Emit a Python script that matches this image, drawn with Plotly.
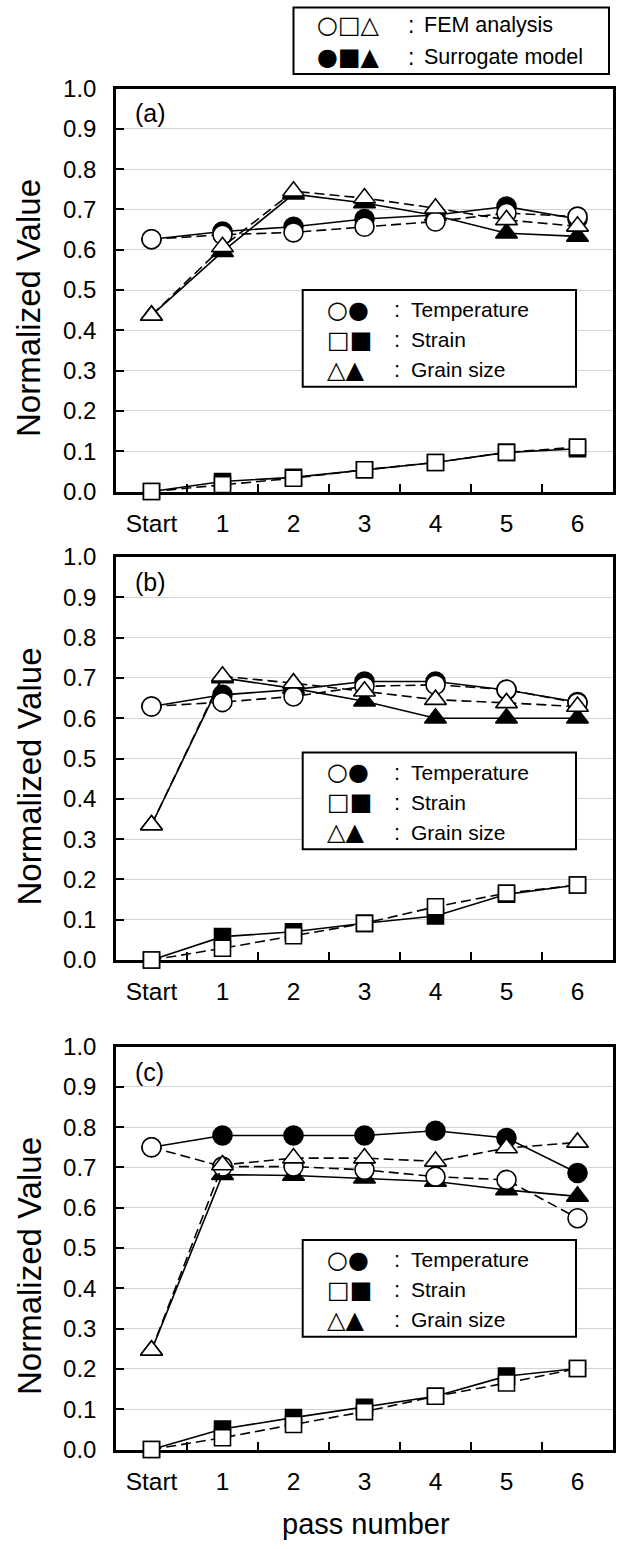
import plotly.graph_objects as go

# ---------------- data ----------------
categories = ["Start", "1", "2", "3", "4", "5", "6"]

a_temp_fem = [0.626, 0.637, 0.643, 0.657, 0.670, 0.691, 0.682]
a_temp_sur = [0.626, 0.645, 0.657, 0.676, 0.686, 0.707, 0.676]
a_strain_fem = [0.000, 0.017, 0.033, 0.054, 0.072, 0.097, 0.110]
a_strain_sur = [0.000, 0.025, 0.035, 0.054, 0.072, 0.097, 0.106]
a_grain_fem = [0.437, 0.607, 0.745, 0.728, 0.703, 0.674, 0.658]
a_grain_sur = [0.437, 0.595, 0.738, 0.716, 0.685, 0.641, 0.633]

b_temp_fem = [0.629, 0.640, 0.654, 0.679, 0.683, 0.671, 0.638]
b_temp_sur = [0.629, 0.658, 0.671, 0.691, 0.691, 0.670, 0.640]
b_strain_fem = [0.000, 0.029, 0.060, 0.091, 0.132, 0.166, 0.186]
b_strain_sur = [0.000, 0.058, 0.070, 0.091, 0.109, 0.163, 0.186]
b_grain_fem = [0.335, 0.704, 0.687, 0.667, 0.646, 0.638, 0.629]
b_grain_sur = [0.335, 0.700, 0.674, 0.642, 0.600, 0.600, 0.600]

c_temp_fem = [0.750, 0.702, 0.702, 0.694, 0.677, 0.669, 0.574]
c_temp_sur = [0.750, 0.779, 0.779, 0.779, 0.791, 0.773, 0.686]
c_strain_fem = [0.000, 0.029, 0.062, 0.094, 0.132, 0.165, 0.201]
c_strain_sur = [0.000, 0.051, 0.079, 0.105, 0.132, 0.182, 0.201]
c_grain_fem = [0.246, 0.706, 0.723, 0.723, 0.715, 0.748, 0.762]
c_grain_sur = [0.246, 0.682, 0.680, 0.673, 0.665, 0.644, 0.628]

panel_labels = ["(a)", "(b)", "(c)"]
y_ticks = [0.0, 0.1, 0.2, 0.3, 0.4, 0.5, 0.6, 0.7, 0.8, 0.9, 1.0]
legend_rows = ["Temperature", "Strain", "Grain size"]
legend_syms = ["○●", "□■", "△▲"]
method_rows = ["FEM analysis", "Surrogate model"]
method_syms = ["○□△", "●■▲"]

panels = [
    dict(temp_fem=a_temp_fem, temp_sur=a_temp_sur, strain_fem=a_strain_fem,
         strain_sur=a_strain_sur, grain_fem=a_grain_fem, grain_sur=a_grain_sur),
    dict(temp_fem=b_temp_fem, temp_sur=b_temp_sur, strain_fem=b_strain_fem,
         strain_sur=b_strain_sur, grain_fem=b_grain_fem, grain_sur=b_grain_sur),
    dict(temp_fem=c_temp_fem, temp_sur=c_temp_sur, strain_fem=c_strain_fem,
         strain_sur=c_strain_sur, grain_fem=c_grain_fem, grain_sur=c_grain_sur),
]

# ---------------- layout geometry (pixels) ----------------
W, H = 617, 1549
X_LEFT, X_RIGHT = 116, 613
TOPS = [88.5, 557.0, 1046.5]
BOTS = [491.5, 960.0, 1449.5]
LEG_TOPS = [290.0, 752.6, 1240.0]

FONT = "Liberation Sans, Arial"
SYM = "DejaVu Sans"


def fx(px):
    return px / W


def fy(py):
    return 1 - py / H


xs = list(range(len(categories)))

fig = go.Figure()

marker_size = {"circle": 19, "square": 16, "triangle-up": 19}

for i, p in enumerate(panels):
    ax = "" if i == 0 else str(i + 1)
    xref, yref = "x" + ax, "y" + ax
    series = [
        ("grain_sur", "triangle-up", True),
        ("temp_sur", "circle", True),
        ("strain_sur", "square", True),
        ("strain_fem", "square", False),
        ("temp_fem", "circle", False),
        ("grain_fem", "triangle-up", False),
    ]
    for key, sym, filled in series:
        fig.add_trace(go.Scatter(
            x=xs, y=p[key], xaxis=xref, yaxis=yref,
            mode="lines+markers",
            line=dict(color="black", width=1.6,
                      dash="solid" if filled else "10px,5px"),
            marker=dict(symbol=sym, size=marker_size[sym],
                        color="black" if filled else "white",
                        line=dict(color="black", width=1.6)),
            cliponaxis=False, showlegend=False, hoverinfo="skip",
        ))

    dom_y = [fy(BOTS[i]), fy(TOPS[i])]
    fig.layout["xaxis" + ax] = dict(
        domain=[fx(X_LEFT), fx(X_RIGHT)], anchor=yref,
        range=[-0.5, 6.5], tickmode="array", tickvals=xs, ticktext=categories,
        ticks="", showgrid=False, zeroline=False,
        showline=True, mirror=True, linecolor="black", linewidth=2.5,
        layer="below traces",
        tickfont=dict(family=FONT, size=24.5, color="black"),
        ticklabelstandoff=8,
        minor=dict(tickmode="array", tickvals=[0.5, 1.5, 2.5, 3.5, 4.5, 5.5],
                   ticks="inside", ticklen=8, tickwidth=2, tickcolor="black",
                   showgrid=False),
        automargin=False, fixedrange=True,
    )
    fig.layout["yaxis" + ax] = dict(
        domain=dom_y, anchor=xref, range=[0, 1.0],
        tickmode="array", tickvals=y_ticks,
        ticktext=[f"{v:.1f}" for v in y_ticks],
        ticks="inside", ticklen=8, tickwidth=2, tickcolor="black",
        showgrid=True, gridcolor="#d4d4d4", gridwidth=1,
        zeroline=False, showline=True, mirror=True, linecolor="black",
        linewidth=2.5, layer="below traces",
        tickfont=dict(family=FONT, size=24, color="black"),
        ticklabelstandoff=12,
        automargin=False, fixedrange=True,
    )

annotations = []
shapes = []


def text_ann(text, x, y, size, family=FONT, xanchor="left"):
    return dict(text=text, x=fx(x), y=fy(y), xref="paper", yref="paper",
                xanchor=xanchor, yanchor="middle", showarrow=False,
                font=dict(family=family, size=size, color="black"))


for i in range(3):
    top, bot = TOPS[i], BOTS[i]
    annotations.append(text_ann(panel_labels[i], 133, top + 25, 25))
    # y-axis title
    annotations.append(dict(text="Normalized Value", x=fx(29),
                            y=fy((top + bot) / 2 + 18),
                            xref="paper", yref="paper", xanchor="center",
                            yanchor="middle", textangle=-90, showarrow=False,
                            font=dict(family=FONT, size=33, color="black")))
    # inner legend box
    btop = LEG_TOPS[i]
    bbot = btop + 96.7
    shapes.append(dict(type="rect", xref="paper", yref="paper",
                       x0=fx(302.7), x1=fx(576), y0=fy(bbot), y1=fy(btop),
                       line=dict(color="black", width=2), fillcolor="white",
                       layer="above"))
    for sy, lab, off in zip(legend_syms, legend_rows, [19.5, 49.5, 79.5]):
        yy = btop + off
        annotations.append(text_ann(sy, 325, yy, 24, family=SYM))
        annotations.append(text_ann(":", 397, yy, 22, xanchor="center"))
        annotations.append(text_ann(lab, 409, yy, 21))

# top legend
shapes.append(dict(type="rect", xref="paper", yref="paper",
                   x0=fx(293.5), x1=fx(609), y0=fy(74), y1=fy(7.5),
                   line=dict(color="black", width=2), fillcolor="white"))
for sy, lab, yy in zip(method_syms, method_rows, [25, 57]):
    annotations.append(text_ann(sy, 315, yy, 24, family=SYM))
    annotations.append(text_ann(":", 411, yy, 23, xanchor="center"))
    annotations.append(text_ann(lab, 422, yy, 21.5))

# x-axis title
annotations.append(text_ann("pass number", 366, 1524, 29, xanchor="center"))

fig.update_layout(
    width=W, height=H,
    margin=dict(l=0, r=0, t=0, b=0, autoexpand=False),
    paper_bgcolor="white", plot_bgcolor="white",
    showlegend=False,
    annotations=annotations, shapes=shapes,
)

fig.write_html("out.html")
